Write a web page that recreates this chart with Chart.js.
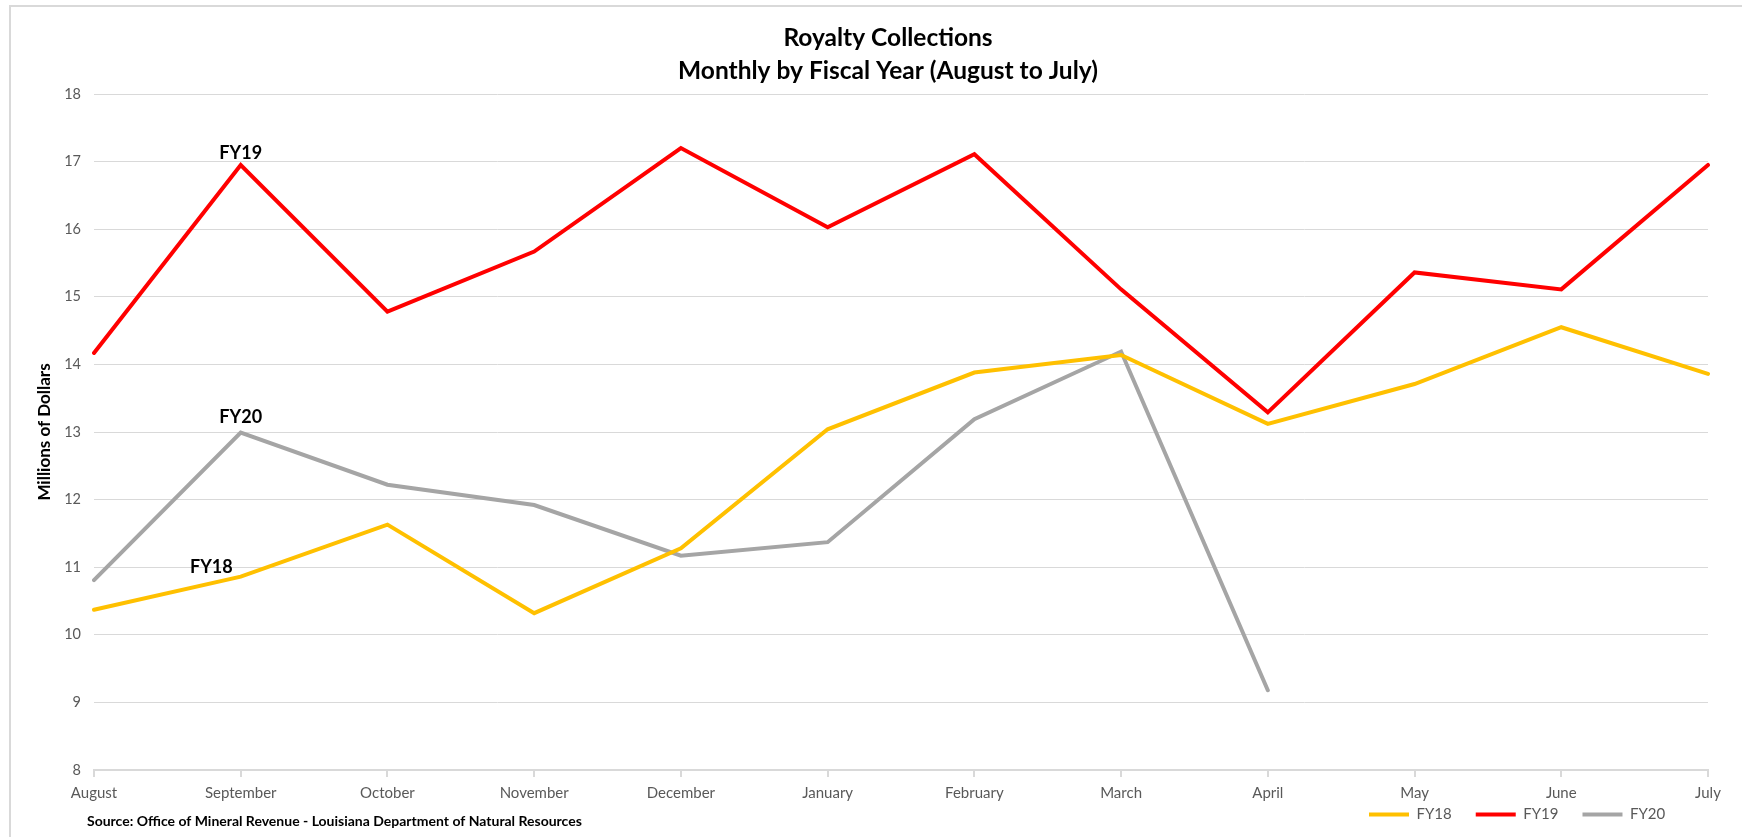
<!DOCTYPE html>
<html><head><meta charset="utf-8">
<script src="https://cdn.jsdelivr.net/npm/chart.js@4.4.1/dist/chart.umd.min.js"></script>
<style>
html,body{margin:0;padding:0;background:#fff;overflow:hidden;width:1742px;height:837px;}
#frame{position:absolute;left:9px;top:5px;width:1800px;height:900px;border:2px solid #D9D9D9;box-sizing:border-box;}
#c{position:absolute;left:0;top:0;}
</style></head><body>
<div id="frame"></div>
<canvas id="c" width="1742" height="837"></canvas>
<script>
const months = ['August','September','October','November','December','January','February','March','April','May','June','July'];
const fy18 = [10.37, 10.86, 11.63, 10.32, 11.28, 13.04, 13.88, 14.14, 13.12, 13.71, 14.55, 13.86];
const fy19 = [14.17, 16.95, 14.78, 15.67, 17.20, 16.03, 17.11, 15.11, 13.29, 15.36, 15.11, 16.95];
const fy20 = [10.81, 12.99, 12.22, 11.92, 11.17, 11.37, 13.19, 14.19, 9.18];
const seriesNames = ['FY18', 'FY19', 'FY20'];
const seriesColors = ['#FFC000', '#FF0000', '#A5A5A5'];
const yMin = 8, yMax = 18, yStep = 1;
const calloutText = ['FY19', 'FY20', 'FY18'];
const calloutX = [1, 1, 0.8];
const calloutY = [17.13, 13.22, 11.0];
const titleLines = ['Royalty Collections', 'Monthly by Fiscal Year (August to July)'];
const yTitle = 'Millions of Dollars';
const sourceNote = 'Source: Office of Mineral Revenue - Louisiana Department of Natural Resources';

const FONT = 'Lato';
const seriesData = [fy18, fy19, fy20];

const extras = {
  id: 'extras',
  afterLayout(chart) {
    chart.legend.left = 1345;
    chart.legend.top = 783;
    chart.titleBlock.left = 68;
  },
  afterDatasetsDraw(chart) {
    const ctx = chart.ctx, xs = chart.scales.x, ys = chart.scales.y;
    ctx.save();
    ctx.font = 'bold 18px ' + FONT;
    ctx.fillStyle = '#000';
    ctx.textAlign = 'center';
    ctx.textBaseline = 'middle';
    calloutText.forEach((t, i) => {
      ctx.fillText(t, xs.getPixelForValue(calloutX[i]), ys.getPixelForValue(calloutY[i]));
    });
    ctx.restore();
  },
  afterDraw(chart) {
    const ctx = chart.ctx;
    ctx.save();
    ctx.font = 'bold 14px ' + FONT;
    ctx.fillStyle = '#000';
    ctx.textAlign = 'left';
    ctx.textBaseline = 'middle';
    ctx.fillText(sourceNote, 87, 821);
    ctx.restore();
  }
};

new Chart(document.getElementById('c'), {
  type: 'line',
  data: {
    labels: months,
    datasets: seriesNames.map((n, i) => ({
      label: n,
      data: seriesData[i],
      borderColor: seriesColors[i],
      backgroundColor: seriesColors[i],
      borderWidth: 4,
      borderCapStyle: 'round',
      borderJoinStyle: 'miter',
      pointRadius: 0,
      tension: 0,
      fill: false
    }))
  },
  options: {
    responsive: false,
    animation: false,
    devicePixelRatio: 1,
    layout: { padding: { left: 0, right: 34, top: 0, bottom: 0 } },
    plugins: {
      tooltip: { enabled: false },
      title: {
        display: true,
        text: titleLines,
        color: '#000',
        font: { family: FONT, size: 24.5, weight: 'bold', lineHeight: 1.347 },
        padding: { top: 22, bottom: 6 }
      },
      legend: {
        display: true,
        position: 'bottom',
        align: 'start',
        maxHeight: 35,
        labels: {
          usePointStyle: true,
          pointStyle: 'line',
          pointStyleWidth: 40,
          padding: 24,
          color: '#595959',
          font: { family: FONT, size: 15 }
        }
      }
    },
    scales: {
      x: {
        offset: false,
        grid: { display: true, drawOnChartArea: false, drawTicks: true, tickLength: 7, color: '#D9D9D9', lineWidth: 2 },
        border: { display: true, color: '#D9D9D9', width: 2 },
        ticks: { color: '#595959', font: { family: FONT, size: 15 }, padding: 7, maxRotation: 0, autoSkip: false },
        afterFit(s) { s.height = 32; }
      },
      y: {
        min: yMin, max: yMax,
        grid: { color: '#D9D9D9', lineWidth: 1, drawTicks: false },
        border: { display: false },
        ticks: { stepSize: yStep, color: '#595959', font: { family: FONT, size: 14.5 }, padding: 13 },
        title: { display: true, text: yTitle, color: '#000', font: { family: FONT, size: 17, weight: 'bold' }, padding: { top: 34, bottom: 0 } },
        afterFit(s) { s.width = 94; }
      }
    }
  },
  plugins: [extras]
});
</script>
</body></html>
